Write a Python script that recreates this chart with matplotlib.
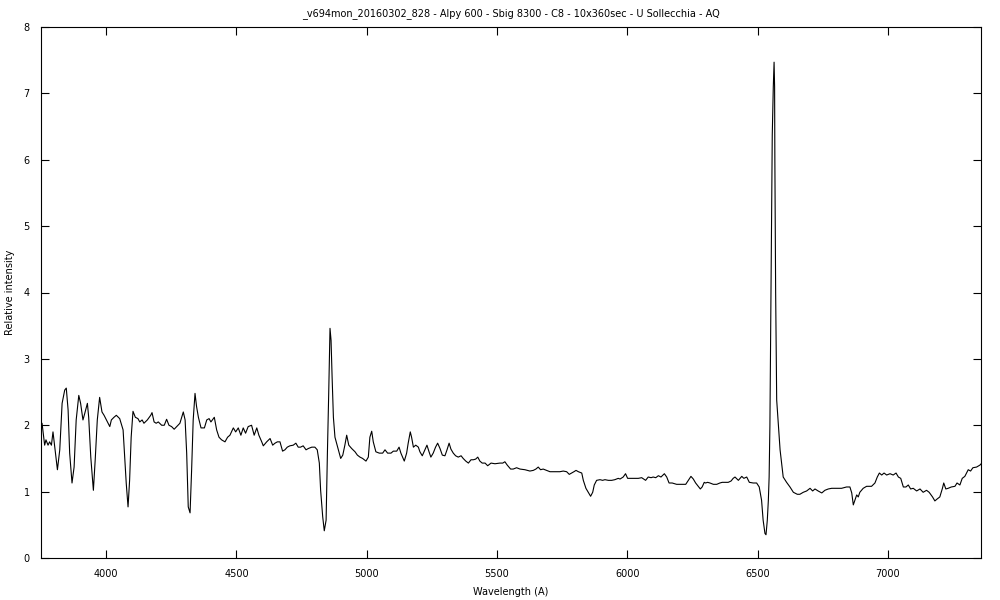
#!/usr/bin/env python3
"""Spectrum plot: V694 Mon, Alpy 600 (gnuplot-like style)."""

import numpy as np
import matplotlib
matplotlib.use('Agg')
import matplotlib.pyplot as plt

TITLE = "_v694mon_20160302_828 - Alpy 600 - Sbig 8300 - C8 - 10x360sec - U Sollecchia - AQ"

# wavelength (A) and relative intensity
wavelength = [
    3750, 3754, 3764, 3769, 3777, 3783, 3790, 3796, 3803, 3813, 3822, 3831, 3841, 3847,
    3854, 3860, 3869, 3877, 3885, 3895, 3902, 3911, 3918, 3928, 3933, 3941, 3951, 3958,
    3966, 3975, 3984, 3992, 4001, 4007, 4014, 4020, 4030, 4039, 4052, 4065, 4071, 4077,
    4084, 4090, 4096, 4103, 4112, 4122, 4129, 4138, 4145, 4158, 4171, 4176, 4184, 4192,
    4200, 4213, 4223, 4232, 4241, 4251, 4261, 4271, 4283, 4296, 4303, 4309, 4315, 4322,
    4328, 4334, 4341, 4347, 4354, 4364, 4377, 4386, 4395, 4402, 4415, 4424, 4433, 4443,
    4456, 4466, 4475, 4488, 4497, 4507, 4517, 4526, 4535, 4545, 4558, 4568, 4578, 4586,
    4597, 4603, 4616, 4629, 4639, 4648, 4657, 4667, 4677, 4686, 4695, 4705, 4718, 4728,
    4737, 4746, 4756, 4767, 4776, 4789, 4801, 4810, 4818, 4823, 4831, 4837, 4844, 4849,
    4854, 4859, 4863, 4867, 4872, 4878, 4891, 4900, 4908, 4916, 4923, 4931, 4942, 4955,
    4964, 4974, 4984, 4997, 5006, 5012, 5019, 5025, 5035, 5048, 5061, 5070, 5080, 5093,
    5102, 5115, 5124, 5131, 5144, 5153, 5159, 5167, 5172, 5179, 5188, 5198, 5204, 5213,
    5223, 5231, 5239, 5246, 5255, 5264, 5272, 5281, 5290, 5300, 5308, 5316, 5323, 5332,
    5341, 5351, 5362, 5370, 5380, 5390, 5400, 5409, 5418, 5426, 5434, 5443, 5454, 5464,
    5477, 5492, 5511, 5522, 5530, 5539, 5552, 5562, 5575, 5588, 5607, 5626, 5639, 5649,
    5658, 5667, 5677, 5690, 5703, 5716, 5729, 5741, 5754, 5767, 5777, 5786, 5795, 5803,
    5812, 5825, 5831, 5841, 5850, 5859, 5867, 5873, 5882, 5895, 5905, 5914, 5927, 5940,
    5952, 5965, 5972, 5984, 5993, 6001, 6017, 6042, 6055, 6070, 6080, 6091, 6099, 6109,
    6119, 6129, 6142, 6151, 6160, 6172, 6189, 6208, 6224, 6234, 6244, 6253, 6262, 6272,
    6280, 6287, 6295, 6300, 6308, 6317, 6330, 6343, 6355, 6364, 6374, 6387, 6398, 6406,
    6413, 6426, 6439, 6447, 6458, 6468, 6483, 6496, 6506, 6515, 6521, 6528, 6532, 6537,
    6541, 6544, 6547, 6551, 6555, 6556, 6560, 6563, 6565, 6566, 6569, 6573, 6586, 6598,
    6611, 6624, 6637, 6652, 6662, 6675, 6688, 6701, 6711, 6720, 6732, 6746, 6758, 6771,
    6784, 6803, 6822, 6841, 6854, 6861, 6867, 6873, 6880, 6886, 6892, 6905, 6918, 6937,
    6950, 6959, 6967, 6976, 6985, 6995, 7008, 7020, 7031, 7040, 7049, 7059, 7069, 7078,
    7087, 7097, 7110, 7123, 7135, 7148, 7158, 7171, 7180, 7189, 7199, 7209, 7214, 7222,
    7231, 7243, 7257, 7265, 7276, 7285, 7295, 7308, 7317, 7326, 7340, 7353, 7360,
]

intensity = [
    2.00, 2.03, 1.70, 1.78, 1.70, 1.75, 1.70, 1.90, 1.67, 1.33, 1.63, 2.33, 2.53, 2.56,
    2.23, 1.58, 1.13, 1.37, 2.08, 2.45, 2.33, 2.08, 2.18, 2.33, 2.12, 1.52, 1.02, 1.48,
    2.08, 2.42, 2.20, 2.15, 2.08, 2.03, 1.98, 2.08, 2.12, 2.15, 2.10, 1.93, 1.52, 1.13,
    0.77, 1.17, 1.82, 2.21, 2.12, 2.10, 2.05, 2.08, 2.03, 2.08, 2.15, 2.19, 2.05, 2.03,
    2.05, 2.00, 2.00, 2.09, 2.00, 1.98, 1.94, 1.98, 2.03, 2.20, 2.08, 1.58, 0.77, 0.68,
    1.33, 2.08, 2.48, 2.28, 2.12, 1.96, 1.96, 2.08, 2.10, 2.05, 2.12, 1.93, 1.82, 1.78,
    1.75, 1.82, 1.85, 1.96, 1.90, 1.96, 1.85, 1.96, 1.88, 1.98, 2.00, 1.85, 1.96, 1.85,
    1.75, 1.69, 1.75, 1.80, 1.70, 1.73, 1.75, 1.75, 1.61, 1.63, 1.67, 1.69, 1.70, 1.73,
    1.67, 1.67, 1.69, 1.63, 1.65, 1.67, 1.67, 1.63, 1.43, 1.02, 0.62, 0.41, 0.57, 1.58,
    2.48, 3.46, 3.28, 2.73, 2.12, 1.82, 1.63, 1.50, 1.55, 1.70, 1.85, 1.70, 1.65, 1.60,
    1.55, 1.52, 1.50, 1.46, 1.52, 1.82, 1.91, 1.75, 1.60, 1.58, 1.58, 1.63, 1.58, 1.58,
    1.61, 1.61, 1.67, 1.58, 1.46, 1.58, 1.73, 1.90, 1.82, 1.67, 1.70, 1.67, 1.60, 1.54,
    1.63, 1.70, 1.60, 1.52, 1.58, 1.67, 1.73, 1.65, 1.55, 1.54, 1.63, 1.73, 1.64, 1.58,
    1.54, 1.52, 1.54, 1.50, 1.46, 1.43, 1.48, 1.48, 1.49, 1.52, 1.46, 1.43, 1.43, 1.39,
    1.43, 1.42, 1.43, 1.43, 1.45, 1.40, 1.34, 1.34, 1.36, 1.34, 1.33, 1.31, 1.32, 1.34,
    1.37, 1.33, 1.34, 1.32, 1.30, 1.30, 1.30, 1.30, 1.31, 1.30, 1.26, 1.28, 1.30, 1.32,
    1.30, 1.28, 1.17, 1.05, 0.99, 0.93, 0.99, 1.10, 1.17, 1.18, 1.17, 1.18, 1.17, 1.17,
    1.18, 1.20, 1.19, 1.22, 1.27, 1.20, 1.20, 1.20, 1.21, 1.17, 1.22, 1.21, 1.22, 1.21,
    1.24, 1.22, 1.27, 1.22, 1.13, 1.13, 1.11, 1.11, 1.11, 1.17, 1.23, 1.19, 1.13, 1.08,
    1.04, 1.07, 1.14, 1.13, 1.14, 1.13, 1.11, 1.11, 1.13, 1.14, 1.14, 1.14, 1.16, 1.20,
    1.22, 1.17, 1.23, 1.20, 1.22, 1.14, 1.13, 1.13, 1.07, 0.87, 0.57, 0.37, 0.35, 0.57,
    0.87, 1.22, 2.00, 4.00, 6.00, 6.37, 7.10, 7.47, 7.10, 6.00, 4.00, 2.38, 1.63, 1.22,
    1.14, 1.07, 0.99, 0.96, 0.96, 0.99, 1.01, 1.05, 1.01, 1.04, 1.01, 0.98, 1.02, 1.04,
    1.05, 1.05, 1.05, 1.07, 1.07, 0.98, 0.80, 0.87, 0.95, 0.92, 0.99, 1.05, 1.08, 1.08,
    1.13, 1.22, 1.28, 1.25, 1.28, 1.25, 1.27, 1.25, 1.28, 1.22, 1.20, 1.07, 1.07, 1.10,
    1.04, 1.05, 1.01, 1.04, 0.99, 1.02, 0.99, 0.92, 0.86, 0.89, 0.92, 1.05, 1.13, 1.04,
    1.05, 1.07, 1.08, 1.13, 1.10, 1.20, 1.23, 1.33, 1.31, 1.36, 1.37, 1.40, 1.43,
]

x_ticks = [4000, 4500, 5000, 5500, 6000, 6500, 7000]
y_ticks = [0, 1, 2, 3, 4, 5, 6, 7, 8]


def main():
    plt.rcParams['font.family'] = ['DejaVu Sans']
    fig = plt.figure(figsize=(10, 6), dpi=100)
    ax = fig.add_axes([0.041, 0.07, 0.94, 0.885])

    ax.plot(np.array(wavelength), np.array(intensity), color='black', lw=0.8)

    ax.set_xlim(3750, 7357)
    ax.set_ylim(0, 8)
    ax.set_xticks(x_ticks)
    ax.set_yticks(y_ticks)

    # gnuplot look: inward ticks mirrored on all sides
    ax.tick_params(direction='in', length=6, width=0.8, top=True, right=True,
                   labelsize=7, pad=8)
    for sp in ax.spines.values():
        sp.set_linewidth(0.8)

    ax.set_title(TITLE, fontsize=7, pad=8)
    ax.set_xlabel('Wavelength (A)', fontsize=7, labelpad=6)
    ax.set_ylabel('Relative intensity', fontsize=7, labelpad=6)

    fig.savefig('out.png', dpi=100)
    plt.close(fig)


if __name__ == "__main__":
    main()
